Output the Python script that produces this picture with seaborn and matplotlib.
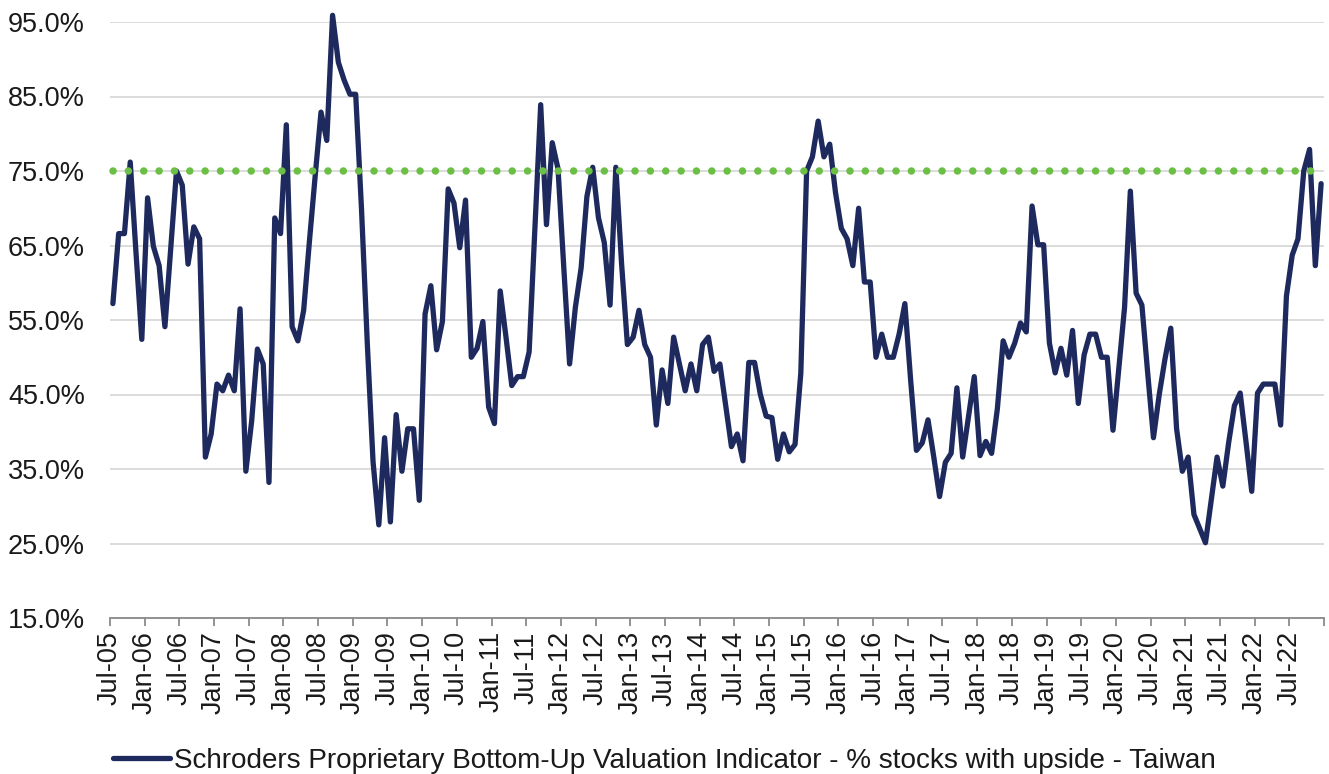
import numpy as np
import pandas as pd
import matplotlib
matplotlib.use("Agg")
import matplotlib.pyplot as plt
from matplotlib.lines import Line2D
from matplotlib.ticker import FuncFormatter
import seaborn as sns

# Monthly observations, Jul-2005 .. Dec-2022 (% of stocks with upside)
months = pd.date_range("2005-07-01", "2022-12-01", freq="MS")

upside_2005 = [57.2, 66.6, 66.6, 76.2, 64.0, 52.4]
upside_2006 = [71.4, 64.9, 62.3, 54.1, 64.6, 75.0, 73.1, 62.5, 67.5, 65.9, 36.6, 39.7]
upside_2007 = [46.4, 45.5, 47.6, 45.5, 56.5, 34.7, 41.4, 51.1, 49.1, 33.2, 68.7, 66.6]
upside_2008 = [81.2, 54.1, 52.2, 56.3, 65.6, 74.4, 82.9, 79.1, 95.9, 89.6, 87.2, 85.3]
upside_2009 = [85.3, 70.0, 52.0, 36.0, 27.5, 39.2, 27.9, 42.3, 34.7, 40.4, 40.4, 30.8]
upside_2010 = [55.8, 59.6, 51.0, 54.8, 72.6, 70.7, 64.7, 71.1, 50.0, 51.2, 54.8, 43.3]
upside_2011 = [41.1, 58.9, 52.7, 46.2, 47.4, 47.4, 50.7, 67.3, 83.9, 67.8, 78.8, 75.3]
upside_2012 = [62.0, 49.1, 56.7, 62.0, 71.6, 75.5, 68.7, 65.4, 57.0, 75.5, 62.5, 51.7]
upside_2013 = [52.7, 56.3, 51.7, 50.0, 40.9, 48.3, 43.8, 52.7, 49.1, 45.5, 49.1, 45.5]
upside_2014 = [51.7, 52.7, 48.1, 49.1, 43.5, 38.0, 39.7, 36.1, 49.3, 49.3, 45.0, 42.1]
upside_2015 = [41.9, 36.3, 39.7, 37.3, 38.3, 47.9, 75.0, 76.9, 81.7, 76.9, 78.6, 72.1]
upside_2016 = [67.3, 65.9, 62.3, 70.0, 60.1, 60.1, 50.0, 53.1, 50.0, 50.0, 53.1, 57.2]
upside_2017 = [46.9, 37.5, 38.5, 41.6, 36.6, 31.3, 35.9, 37.1, 45.9, 36.6, 42.0, 47.4]
upside_2018 = [36.8, 38.7, 37.1, 43.1, 52.2, 50.0, 51.9, 54.6, 53.4, 70.3, 65.1, 65.1]
upside_2019 = [51.9, 47.9, 51.2, 47.6, 53.6, 43.8, 50.3, 53.1, 53.1, 50.0, 50.0, 40.2]
upside_2020 = [48.5, 56.7, 72.3, 58.6, 57.0, 47.9, 39.2, 45.0, 49.8, 53.9, 40.4, 34.7]
upside_2021 = [36.6, 28.9, 27.0, 25.1, 30.8, 36.6, 32.7, 38.5, 43.5, 45.2, 38.7, 32.0]
upside_2022 = [45.2, 46.4, 46.4, 46.4, 40.9, 58.2, 63.7, 65.9, 75.0, 77.9, 62.3, 73.3]

upside_pct = (upside_2005 + upside_2006 + upside_2007 + upside_2008 + upside_2009
              + upside_2010 + upside_2011 + upside_2012 + upside_2013 + upside_2014
              + upside_2015 + upside_2016 + upside_2017 + upside_2018 + upside_2019
              + upside_2020 + upside_2021 + upside_2022)

threshold_pct = 75.0
y_ticks = [15, 25, 35, 45, 55, 65, 75, 85, 95]
series_name = ("Schroders Proprietary Bottom-Up Valuation Indicator - "
               "% stocks with upside - Taiwan")

NAVY = "#1e2a5e"
GREEN = "#6cbf45"
GRID = "#d9d9d9"
AXIS = "#8a8a8a"
TEXT = "#1a1a1a"
FS = 19.5
LW = 3.8
DOT_LW = 5.4

df = pd.DataFrame({"idx": np.arange(len(months)), "upside": upside_pct})

sns.set_theme(style="white")
plt.rcParams["font.family"] = ["Liberation Sans", "DejaVu Sans"]

W, H = 1329, 774
fig = plt.figure(figsize=(W / 100, H / 100), dpi=100)
ax = fig.add_axes([110 / W, 1 - 618 / H, (1324 - 110) / W, (618 - 22) / H])

sns.lineplot(data=df, x="idx", y="upside", ax=ax, color=NAVY, linewidth=LW,
             legend=False, clip_on=False, zorder=3)
main_line = ax.lines[0]
main_line.set_solid_joinstyle("round")
main_line.set_solid_capstyle("round")

# 75% reference level drawn as round dots (about 11 pt apart)
ref = Line2D([df["idx"].iloc[0], df["idx"].iloc[-1]], [threshold_pct, threshold_pct],
             color=GREEN, linewidth=DOT_LW, linestyle=(0, (0.01, 11.0 / DOT_LW)),
             dash_capstyle="round", zorder=4, clip_on=False)
ax.add_line(ref)

n = len(months)
ax.set_xlim(-0.5, n - 0.5)
ax.set_ylim(15, 95)
ax.set_yticks(y_ticks)
ax.yaxis.set_major_formatter(FuncFormatter(lambda v, _: f"{v:.1f}%"))

# Half-yearly ticks on category boundaries, plus the closing edge of the axis
label_months = months[::6]
tick_pos = [k * 6 - 0.5 for k in range(len(label_months))] + [n - 0.5]
tick_lab = [m.strftime("%b-%y") for m in label_months] + [""]
ax.set_xticks(tick_pos)
ax.set_xticklabels(tick_lab)

ax.yaxis.grid(True, color=GRID, linewidth=1.3)
ax.xaxis.grid(False)
ax.set_axisbelow(True)
for side in ("top", "right", "left"):
    ax.spines[side].set_visible(False)
ax.spines["bottom"].set_color(AXIS)
ax.spines["bottom"].set_linewidth(1.3)

ax.tick_params(axis="x", bottom=True, length=5.5, width=1.3, color=AXIS,
               direction="out", pad=4, labelrotation=90, labelsize=FS,
               labelcolor=TEXT)
ax.tick_params(axis="y", left=False, length=0, pad=18, labelsize=FS,
               labelcolor=TEXT)
ax.set_xlabel("")
ax.set_ylabel("")

handle = Line2D([0], [0], color=NAVY, linewidth=LW, solid_capstyle="round")
fig.legend(handles=[handle], labels=[series_name], loc="center",
           bbox_to_anchor=(0.5, 0.017), frameon=False, fontsize=20.1,
           handlelength=2.05, handletextpad=0.15, borderpad=0,
           borderaxespad=0, labelcolor=TEXT)

fig.savefig("out.png", dpi=100)
